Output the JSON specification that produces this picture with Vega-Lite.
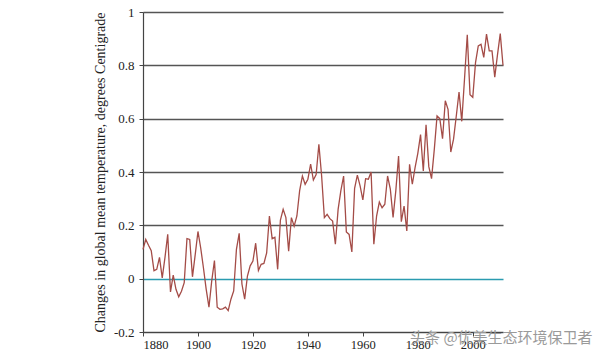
{
  "$schema": "https://vega.github.io/schema/vega-lite/v6.json",
  "width": 360,
  "height": 320,
  "autosize": {"type": "none"},
  "padding": {"left": 143, "top": 12, "right": 97, "bottom": 25},
  "background": "white",
  "config": {"view": {"stroke": null}, "font": "Liberation Serif"},
  "title": {"text": "头条 @优美生态环境保卫者", "orient": "bottom", "anchor": "end", "font": "Noto Sans CJK SC", "fontSize": 15, "fontWeight": "normal", "color": "#9a9a9a", "offset": -20, "dx": 87},
  "data": {"values": [
    {"year": 1880, "anomaly": 0.11}, {"year": 1881, "anomaly": 0.147}, {"year": 1882, "anomaly": 0.125}, {"year": 1883, "anomaly": 0.105},
    {"year": 1884, "anomaly": 0.03}, {"year": 1885, "anomaly": 0.035}, {"year": 1886, "anomaly": 0.08}, {"year": 1887, "anomaly": 0.003},
    {"year": 1888, "anomaly": 0.08}, {"year": 1889, "anomaly": 0.166}, {"year": 1890, "anomaly": -0.05}, {"year": 1891, "anomaly": 0.013},
    {"year": 1892, "anomaly": -0.04}, {"year": 1893, "anomaly": -0.068}, {"year": 1894, "anomaly": -0.047}, {"year": 1895, "anomaly": -0.015},
    {"year": 1896, "anomaly": 0.15}, {"year": 1897, "anomaly": 0.147}, {"year": 1898, "anomaly": 0.007}, {"year": 1899, "anomaly": 0.09},
    {"year": 1900, "anomaly": 0.177}, {"year": 1901, "anomaly": 0.115}, {"year": 1902, "anomaly": 0.04}, {"year": 1903, "anomaly": -0.04},
    {"year": 1904, "anomaly": -0.107}, {"year": 1905, "anomaly": -0.009}, {"year": 1906, "anomaly": 0.068}, {"year": 1907, "anomaly": -0.107},
    {"year": 1908, "anomaly": -0.115}, {"year": 1909, "anomaly": -0.113}, {"year": 1910, "anomaly": -0.107}, {"year": 1911, "anomaly": -0.12},
    {"year": 1912, "anomaly": -0.077}, {"year": 1913, "anomaly": -0.046}, {"year": 1914, "anomaly": 0.11}, {"year": 1915, "anomaly": 0.17},
    {"year": 1916, "anomaly": -0.02}, {"year": 1917, "anomaly": -0.077}, {"year": 1918, "anomaly": 0.01}, {"year": 1919, "anomaly": 0.048},
    {"year": 1920, "anomaly": 0.066}, {"year": 1921, "anomaly": 0.133}, {"year": 1922, "anomaly": 0.031}, {"year": 1923, "anomaly": 0.054},
    {"year": 1924, "anomaly": 0.057}, {"year": 1925, "anomaly": 0.097}, {"year": 1926, "anomaly": 0.235}, {"year": 1927, "anomaly": 0.15},
    {"year": 1928, "anomaly": 0.155}, {"year": 1929, "anomaly": 0.035}, {"year": 1930, "anomaly": 0.22}, {"year": 1931, "anomaly": 0.26},
    {"year": 1932, "anomaly": 0.229}, {"year": 1933, "anomaly": 0.103}, {"year": 1934, "anomaly": 0.229}, {"year": 1935, "anomaly": 0.197},
    {"year": 1936, "anomaly": 0.235}, {"year": 1937, "anomaly": 0.33}, {"year": 1938, "anomaly": 0.385}, {"year": 1939, "anomaly": 0.354},
    {"year": 1940, "anomaly": 0.373}, {"year": 1941, "anomaly": 0.43}, {"year": 1942, "anomaly": 0.37}, {"year": 1943, "anomaly": 0.39},
    {"year": 1944, "anomaly": 0.504}, {"year": 1945, "anomaly": 0.385}, {"year": 1946, "anomaly": 0.229}, {"year": 1947, "anomaly": 0.241},
    {"year": 1948, "anomaly": 0.225}, {"year": 1949, "anomaly": 0.216}, {"year": 1950, "anomaly": 0.129}, {"year": 1951, "anomaly": 0.26},
    {"year": 1952, "anomaly": 0.33}, {"year": 1953, "anomaly": 0.385}, {"year": 1954, "anomaly": 0.175}, {"year": 1955, "anomaly": 0.166},
    {"year": 1956, "anomaly": 0.1}, {"year": 1957, "anomaly": 0.339}, {"year": 1958, "anomaly": 0.388}, {"year": 1959, "anomaly": 0.348},
    {"year": 1960, "anomaly": 0.295}, {"year": 1961, "anomaly": 0.375}, {"year": 1962, "anomaly": 0.373}, {"year": 1963, "anomaly": 0.4},
    {"year": 1964, "anomaly": 0.129}, {"year": 1965, "anomaly": 0.235}, {"year": 1966, "anomaly": 0.287}, {"year": 1967, "anomaly": 0.266},
    {"year": 1968, "anomaly": 0.279}, {"year": 1969, "anomaly": 0.385}, {"year": 1970, "anomaly": 0.336}, {"year": 1971, "anomaly": 0.23},
    {"year": 1972, "anomaly": 0.33}, {"year": 1973, "anomaly": 0.46}, {"year": 1974, "anomaly": 0.214}, {"year": 1975, "anomaly": 0.272},
    {"year": 1976, "anomaly": 0.179}, {"year": 1977, "anomaly": 0.429}, {"year": 1978, "anomaly": 0.354}, {"year": 1979, "anomaly": 0.416},
    {"year": 1980, "anomaly": 0.47}, {"year": 1981, "anomaly": 0.54}, {"year": 1982, "anomaly": 0.404}, {"year": 1983, "anomaly": 0.577},
    {"year": 1984, "anomaly": 0.42}, {"year": 1985, "anomaly": 0.375}, {"year": 1986, "anomaly": 0.485}, {"year": 1987, "anomaly": 0.61},
    {"year": 1988, "anomaly": 0.6}, {"year": 1989, "anomaly": 0.525}, {"year": 1990, "anomaly": 0.667}, {"year": 1991, "anomaly": 0.635},
    {"year": 1992, "anomaly": 0.475}, {"year": 1993, "anomaly": 0.523}, {"year": 1994, "anomaly": 0.61}, {"year": 1995, "anomaly": 0.7},
    {"year": 1996, "anomaly": 0.59}, {"year": 1997, "anomaly": 0.75}, {"year": 1998, "anomaly": 0.915}, {"year": 1999, "anomaly": 0.69},
    {"year": 2000, "anomaly": 0.68}, {"year": 2001, "anomaly": 0.81}, {"year": 2002, "anomaly": 0.873}, {"year": 2003, "anomaly": 0.879},
    {"year": 2004, "anomaly": 0.83}, {"year": 2005, "anomaly": 0.917}, {"year": 2006, "anomaly": 0.854}, {"year": 2007, "anomaly": 0.854},
    {"year": 2008, "anomaly": 0.756}, {"year": 2009, "anomaly": 0.84}, {"year": 2010, "anomaly": 0.919}, {"year": 2011, "anomaly": 0.8}
  ]},
  "mark": {"type": "line", "color": "#a44c47", "strokeWidth": 1.3},
  "encoding": {
    "x": {
      "field": "year", "type": "quantitative",
      "scale": {"domain": [1880, 2011], "nice": false, "zero": false},
      "axis": {
        "values": [1880, 1900, 1920, 1940, 1960, 1980, 2000], "format": "d",
        "grid": false, "domainColor": "#444", "domainWidth": 1.2, "tickColor": "#444", "tickSize": 4,
        "labelFont": "Liberation Serif", "labelFontSize": 12.5, "labelColor": "#222", "labelPadding": 2,
        "title": null
      }
    },
    "y": {
      "field": "anomaly", "type": "quantitative",
      "scale": {"domain": [-0.2, 1], "nice": false, "zero": false},
      "axis": {
        "values": [-0.2, 0, 0.2, 0.4, 0.6, 0.8, 1],
        "grid": true,
        "gridColor": {"condition": {"test": "datum.value == 0", "value": "#2a9bb0"}, "value": "#555555"},
        "gridWidth": 1.5,
        "domainColor": "#444", "domainWidth": 1.2, "tickColor": "#444", "tickSize": 4,
        "labelExpr": "datum.value == 0 ? '0' : datum.value == 1 ? '1' : (datum.value < 0 ? '-' : '') + format(abs(datum.value), '.1f')",
        "labelFont": "Liberation Serif", "labelFontSize": 13, "labelColor": "#222", "labelPadding": 5,
        "title": "Changes in global mean temperature, degrees Centigrade",
        "titleFont": "Liberation Serif", "titleFontSize": 14, "titleFontWeight": "normal", "titleColor": "#222", "titlePadding": 6
      }
    }
  }
}
